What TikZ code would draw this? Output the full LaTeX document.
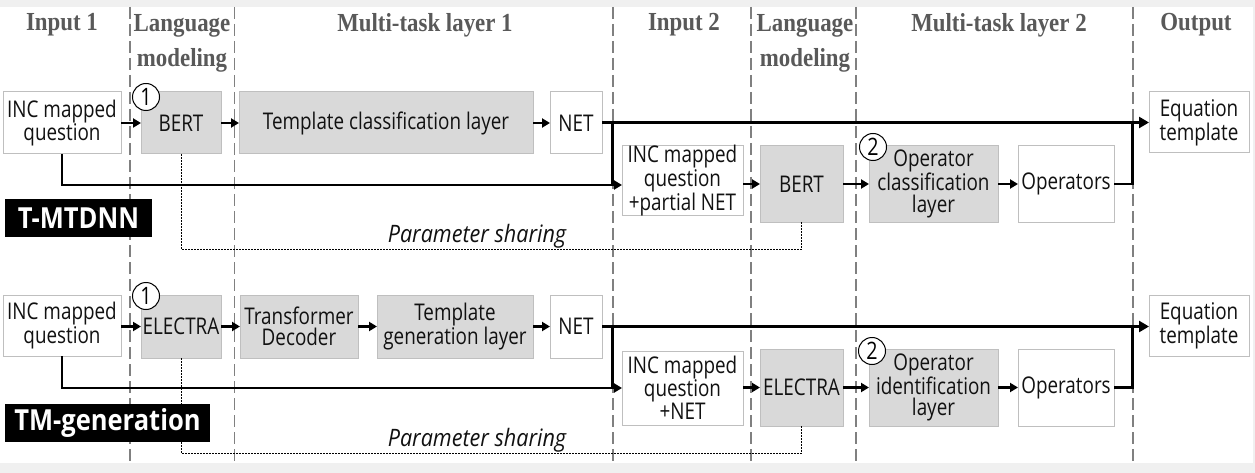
\documentclass[tikz,border=0pt]{standalone}
\usepackage{fontspec}
\setmainfont{Open Sans}
\newfontfamily\bodyf[FakeStretch=0.82]{Open Sans}
\newfontfamily\italf[FakeStretch=0.9]{Open Sans}
\newfontfamily\tagf[FakeStretch=0.88]{Open Sans}
\newfontfamily\hdrf[FakeStretch=0.88]{Liberation Serif}
\usetikzlibrary{arrows.meta}
\definecolor{hdrgray}{HTML}{595959}
\definecolor{boxgray}{HTML}{D9D9D9}
\definecolor{edgegray}{HTML}{BFBFBF}
\definecolor{dashgray}{HTML}{808080}
\definecolor{bggray}{HTML}{F0F0F0}
\definecolor{txt}{HTML}{111111}
\begin{document}
\begin{tikzpicture}[x=1pt,y=-1pt,
  every node/.style={inner sep=0pt, outer sep=0pt},
  box/.style={draw=edgegray, line width=1pt, align=center, font=\bodyf\fontsize{23}{21.5}\selectfont, text=txt},
  wbox/.style={box, fill=white},
  gbox/.style={box, fill=boxgray},
  hdr/.style={font=\hdrf\bfseries\fontsize{26}{35}\selectfont, text=hdrgray, align=center},
  colsep/.style={dashgray, line width=1.3pt, dash pattern=on 12pt off 5pt},
  arr/.style={line width=2.5pt, -{Triangle[length=8pt,width=9pt]}},
  mainline/.style={line width=2.8pt},
  share/.style={line width=0.8pt, dash pattern=on 1.6pt off 1.4pt},
  num/.style={circle, draw=black, fill=white, line width=1pt, minimum size=27pt, font=\bodyf\fontsize{24}{24}\selectfont},
  tag/.style={fill=black, text=white, font=\tagf\bfseries\fontsize{29}{29}\selectfont, minimum height=38pt},
  ital/.style={font=\italf\itshape\fontsize{24}{24}\selectfont, text=txt}
]
\useasboundingbox (0,0) rectangle (1255,473);
\fill[bggray] (0,0) rectangle (1255,473);
\fill[white] (0,7) rectangle (1253,463);

% column separators
\foreach \x in {130,234.5,613,751,856,1133}
  \draw[colsep] (\x,7) -- (\x,463);

% headers
\node[hdr] (h1) at (62,25) {Input 1};
\node[hdr, anchor=north] (h2) at (182,14) {Language\\modeling};
\node[hdr] (h3) at (425,25) {Multi-task layer 1};
\node[hdr] (h4) at (684,25) {Input 2};
\node[hdr, anchor=north] (h5) at (805,14) {Language\\modeling};
\node[hdr] (h6) at (999,25) {Multi-task layer 2};
\node[hdr] (h7) at (1196,25) {Output};

% ---------- T-MTDNN ----------
\node[wbox, minimum width=118pt, minimum height=62pt] (inc1) at (62,123) {INC mapped\\question};
\node[gbox, minimum width=80pt, minimum height=62pt] (bert1) at (181,123) {BERT};
\node[gbox, minimum width=294pt, minimum height=62pt] (tcl) at (386,123) {Template classification layer};
\node[wbox, minimum width=52pt, minimum height=62pt] (net1) at (576,123) {NET};
\node[wbox, minimum width=100pt, minimum height=61pt] (eq1) at (1199,122.5) {Equation\\template};
\node[wbox, minimum width=121pt, minimum height=65pt] (inc2) at (682.5,180.5) {INC mapped\\question\\+partial NET};
\node[gbox, minimum width=83pt, minimum height=76pt] (bert2) at (801.5,184) {BERT};
\node[gbox, minimum width=129pt, minimum height=76pt] (ocl) at (933.5,184) {Operator\\classification\\layer};
\node[wbox, minimum width=96pt, minimum height=76pt] (ops1) at (1066,184) {Operators};
\node[num] (c1) at (146,97) {1};
\node[num] (c2) at (873,147) {2};
\node[ital] (ps1) at (477,236) {Parameter sharing};

\coordinate (b1) at (612.5,122.5);
\coordinate (j1) at (612.5,185);
\coordinate (k1) at (1132.5,122.5);
\coordinate (d1) at (480,249);

\draw[arr] (inc1.east) -- (bert1.west);
\draw[arr] (bert1.east) -- (tcl.west);
\draw[arr] (tcl.east) -- (net1.west);
\draw[mainline, -{Triangle[length=10pt,width=11pt]}] (net1.east |- eq1.west) -- (eq1.west);
\draw[mainline] (inc1.south) |- (j1);
\draw[mainline] (b1) -- (j1);
\draw[arr] (j1) -- (j1 -| inc2.west);
\draw[arr] (inc2.east |- bert2.west) -- (bert2.west);
\draw[arr] (bert2.east) -- (ocl.west);
\draw[arr] (ocl.east) -- (ops1.west);
\draw[mainline] (ops1.east) -| (k1);
\draw[share] (bert1.south) |- (d1) -| (bert2.south);
\node[tag, minimum width=147pt] (lab1) at (78.5,218) {T-MTDNN};

% ---------- TM-generation ----------
\node[wbox, minimum width=118pt, minimum height=61pt] (inc3) at (62,325.5) {INC mapped\\question};
\node[gbox, minimum width=80pt, minimum height=63pt] (el1) at (181,326.5) {ELECTRA};
\node[gbox, minimum width=118pt, minimum height=63pt] (td) at (299,326.5) {Transformer\\Decoder};
\node[gbox, minimum width=156pt, minimum height=63pt] (tgl) at (455,326.5) {Template\\generation layer};
\node[wbox, minimum width=52pt, minimum height=63pt] (net2) at (576,326.5) {NET};
\node[wbox, minimum width=100pt, minimum height=61pt] (eq2) at (1199,326) {Equation\\template};
\node[wbox, minimum width=121pt, minimum height=74pt] (inc4) at (682.5,388) {INC mapped\\question\\+NET};
\node[gbox, minimum width=83pt, minimum height=77pt] (el2) at (801.5,387.5) {ELECTRA};
\node[gbox, minimum width=129pt, minimum height=77pt] (oil) at (933.5,387.5) {Operator\\identification\\layer};
\node[wbox, minimum width=96pt, minimum height=77pt] (ops2) at (1066,387.5) {Operators};
\node[num] (c3) at (146,296) {1};
\node[num] (c4) at (872,351) {2};
\node[ital] (ps2) at (477,440) {Parameter sharing};

\coordinate (b2) at (612.5,326.5);
\coordinate (j2) at (612.5,388);
\coordinate (k2) at (1132.5,326.5);
\coordinate (d2) at (480,453);

\draw[arr] (inc3.east |- el1.west) -- (el1.west);
\draw[arr] (el1.east) -- (td.west);
\draw[arr] (td.east) -- (tgl.west);
\draw[arr] (tgl.east) -- (net2.west);
\draw[mainline, -{Triangle[length=10pt,width=11pt]}] (net2.east) -- (net2.east -| eq2.west);
\draw[mainline] (inc3.south) |- (j2);
\draw[mainline] (b2) -- (j2);
\draw[arr] (j2) -- (j2 -| inc4.west);
\draw[arr] (inc4.east |- el2.west) -- (el2.west);
\draw[arr] (el2.east) -- (oil.west);
\draw[arr] (oil.east) -- (ops2.west);
\draw[mainline] (ops2.east) -| (k2);
\draw[share] (el1.south) |- (d2) -| (el2.south);
\node[tag, minimum width=205pt] (lab2) at (107.5,423) {TM-generation};
\end{tikzpicture}
\end{document}
